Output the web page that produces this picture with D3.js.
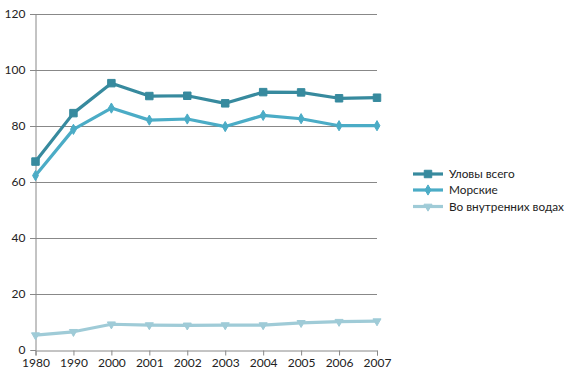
<!DOCTYPE html>
<html><head><meta charset="utf-8">
<script src="https://cdn.jsdelivr.net/npm/d3@7"></script>
<style>body{margin:0;background:#fff}svg{display:block}text{font-family:Lato,"Open Sans",sans-serif;}</style>
</head><body><svg id="c" width="576" height="380"></svg>
<script>
const categories = ["1980","1990","2000","2001","2002","2003","2004","2005","2006","2007"];
const seriesNames = ["Уловы всего","Морские","Во внутренних водах"];
const totalCatch = [67.3,84.6,95.3,90.7,90.8,88.1,92.1,92.0,89.9,90.1];
const marineCatch = [62.3,78.8,86.4,82.1,82.5,79.8,83.8,82.6,80.1,80.1];
const inlandCatch = [5.3,6.5,9.2,8.9,8.8,8.9,8.9,9.7,10.1,10.3];
const yTicks = [0,20,40,60,80,100,120];
const colors = ["#378a9e","#4bacc6","#9fcbd7"];
const symbols = [d3.symbolSquare, d3.symbolDiamond, d3.symbolTriangle];
const symSizes = [56, 30, 28];

const svg = d3.select("#c");
const x = d3.scalePoint().domain(categories).range([35.5, 377]);
const y = d3.scaleLinear().domain([0,120]).range([350, 14]);

svg.append("g").selectAll("line").data(yTicks.filter(d=>d>0)).join("line")
  .attr("x1",30).attr("x2",377).attr("y1",d=>Math.round(y(d))+0.5).attr("y2",d=>Math.round(y(d))+0.5)
  .attr("stroke","#888").attr("stroke-width",1);

const ya = svg.append("g").attr("transform","translate(35.5,0)")
  .call(d3.axisLeft(y).tickValues(yTicks).tickSize(5).tickPadding(5).tickFormat(d3.format("d")));
ya.select(".domain").attr("stroke","#888");
ya.selectAll(".tick line").attr("stroke","#888");
ya.selectAll("text").attr("font-size",12).attr("fill","#222");

const xa = svg.append("g").attr("transform","translate(0,350.5)")
  .call(d3.axisBottom(x).tickSize(5).tickPadding(3));
xa.select(".domain").attr("stroke","#888");
xa.selectAll(".tick line").attr("stroke","#888");
xa.selectAll("text").attr("font-size",12).attr("fill","#222");

const data = [totalCatch, marineCatch, inlandCatch];
const line = d3.line().x((d,i)=>x(categories[i])).y(d=>y(d));
[2,1,0].forEach(k=>{
  const vals = data[k];
  svg.append("path").datum(vals).attr("d",line).attr("fill","none")
    .attr("stroke",colors[k]).attr("stroke-width",3.2).attr("stroke-linejoin","round");
  svg.append("g").selectAll("path").data(vals).join("path")
    .attr("transform",(d,i)=>`translate(${x(categories[i])},${y(d)})` + (k===2?" rotate(180)":""))
    .attr("d",d3.symbol().type(symbols[k]).size(symSizes[k]))
    .attr("fill",colors[k]).attr("stroke",colors[k]).attr("stroke-width",1);
});

const lg = svg.append("g");
const rowsY = [174, 190, 206.5];
seriesNames.forEach((name,k)=>{
  const g = lg.append("g").attr("transform",`translate(0,${rowsY[k]})`);
  g.append("line").attr("x1",413).attr("x2",443).attr("y1",0).attr("y2",0)
    .attr("stroke",colors[k]).attr("stroke-width",3.2);
  g.append("path").attr("transform",`translate(428,0)`+(k===2?" rotate(180)":""))
    .attr("d",d3.symbol().type(symbols[k]).size(symSizes[k]))
    .attr("fill",colors[k]).attr("stroke",colors[k]);
  g.append("text").attr("x",449).attr("y",4).attr("font-size",11.8).attr("fill","#222").text(name);
});
</script></body></html>
